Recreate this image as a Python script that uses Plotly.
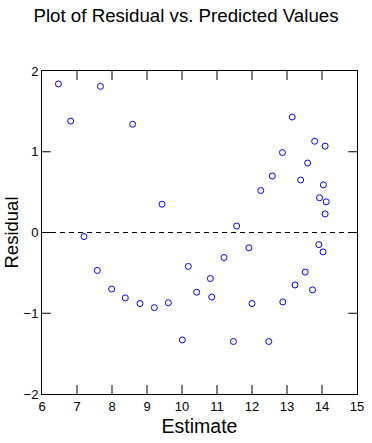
import plotly.graph_objects as go

estimate = [6.47, 6.82, 7.20, 7.67, 8.59, 9.43, 7.58, 7.99, 8.38, 8.80,
            9.21, 9.61, 10.01, 10.18, 10.42, 11.56, 10.81, 10.85, 11.20, 11.91,
            12.00, 11.47, 12.48, 12.88, 13.23, 13.52, 13.73, 13.91, 14.03, 13.15,
            13.79, 14.09, 12.87, 13.59, 12.58, 13.39, 14.04, 12.25, 13.93, 14.12,
            14.09]
residual = [1.84, 1.38, -0.05, 1.81, 1.34, 0.35, -0.47, -0.70, -0.81, -0.88,
            -0.93, -0.87, -1.33, -0.42, -0.74, 0.08, -0.57, -0.80, -0.31, -0.19,
            -0.88, -1.35, -1.35, -0.86, -0.65, -0.49, -0.71, -0.15, -0.24, 1.43,
            1.13, 1.07, 0.99, 0.86, 0.70, 0.65, 0.59, 0.52, 0.43, 0.38,
            0.23]

x_ticks = [6, 7, 8, 9, 10, 11, 12, 13, 14, 15]
y_ticks = [-2, -1, 0, 1, 2]

FONT = "Arial, Liberation Sans, sans-serif"
W, H = 372, 443
ML, MR, MT, MB = 42, 8, 71, 49
TICK_PX = 9
fx = TICK_PX / (W - ML - MR)
fy = TICK_PX / (H - MT - MB)

fig = go.Figure()
fig.add_trace(go.Scatter(
    x=estimate, y=residual, mode="markers",
    marker=dict(symbol="circle-open", size=6, color="#0000ff", line=dict(width=1, color="#0000ff")),
    showlegend=False, hoverinfo="x+y"))

fig.add_hline(y=0, line=dict(color="black", width=1, dash="5px,4px"))

# inside tick marks on all four sides (derived from the tick arrays)
tick_line = dict(color="black", width=1)
for xv in x_ticks[1:-1]:
    fig.add_shape(type="line", xref="x", yref="y domain", x0=xv, x1=xv, y0=0, y1=fy, line=tick_line)
    fig.add_shape(type="line", xref="x", yref="y domain", x0=xv, x1=xv, y0=1 - fy, y1=1, line=tick_line)
for yv in y_ticks[1:-1]:
    fig.add_shape(type="line", xref="x domain", yref="y", x0=0, x1=fx, y0=yv, y1=yv, line=tick_line)
    fig.add_shape(type="line", xref="x domain", yref="y", x0=1 - fx, x1=1, y0=yv, y1=yv, line=tick_line)

fig.update_layout(
    width=W, height=H, autosize=False,
    paper_bgcolor="white", plot_bgcolor="white",
    margin=dict(l=ML, r=MR, t=MT, b=MB, pad=0),
    font=dict(family=FONT, color="black"),
    title=dict(text="Plot of Residual vs. Predicted Values", x=0.5, xref="container",
               xanchor="center", y=1 - 15/443, yref="container", yanchor="middle",
               font=dict(size=18.7, family=FONT, color="black")),
)
fig.update_xaxes(range=[6, 15], tickmode="array", tickvals=x_ticks,
                 ticks="", showline=True,
                 linecolor="black", linewidth=1, mirror=True, showgrid=False, zeroline=False,
                 tickfont=dict(size=13, family=FONT, color="black"),
                 title=dict(text="Estimate", font=dict(size=19.5, family=FONT), standoff=6))
fig.update_yaxes(range=[-2, 2], tickmode="array", tickvals=y_ticks,
                 ticks="", showline=True,
                 linecolor="black", linewidth=1, mirror=True, showgrid=False, zeroline=False,
                 tickfont=dict(size=13, family=FONT, color="black"),
                 title=dict(text="Residual", font=dict(size=18.5, family=FONT), standoff=0))

fig.write_html("out.html", config={"displayModeBar": False},
               post_script="document.body.style.margin='0';document.body.style.overflow='hidden';")
